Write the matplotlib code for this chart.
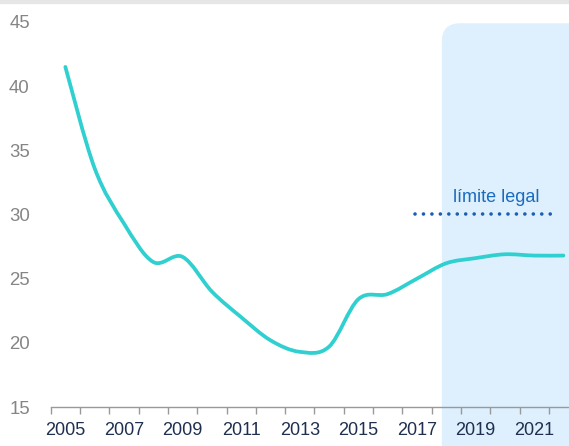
import numpy as np
import matplotlib
matplotlib.use("Agg")
import matplotlib.pyplot as plt
from matplotlib.path import Path
from matplotlib.patches import PathPatch, FancyBboxPatch, Rectangle

plt.rcParams['font.family'] = ['Liberation Sans', 'DejaVu Sans']

years = list(range(2005, 2023))
values = [41.5, 33.6, 29.3, 26.3, 26.7, 24.0, 22.0, 20.2, 19.3, 19.7,
          23.4, 23.8, 25.0, 26.2, 26.6, 26.9, 26.8, 26.8]
legal_limit = 30
limit_span = (2016.93, 2021.78)
shade_start = 2017.85
xtick_years = list(range(2005, 2023, 2))
yticks = [15, 20, 25, 30, 35, 40, 45]

line_color = '#30cfd0'
shade_color = '#def0fd'
label_blue = '#1a6bbf'

fig = plt.figure(figsize=(5.69, 4.46), dpi=100)
fig.patches.append(Rectangle((0, 0.993), 1, 0.01, transform=fig.transFigure,
                             color='#e6e6e6', zorder=0))
ax = fig.add_axes([50.7 / 569, 39 / 446, 527.4 / 569, 385 / 446])

ax.set_xlim(2004.5, 2022.5)
ax.set_ylim(15, 45)

# shaded forecast area with rounded corners
shade = FancyBboxPatch((shade_start, 10.0), 6.0, 34.9,
                       boxstyle="round,pad=0,rounding_size=0.62",
                       mutation_aspect=29.3 / 12.83,
                       facecolor=shade_color, edgecolor='none',
                       clip_on=False, zorder=0)
ax.add_patch(shade)

# smooth curve through the points (Catmull-Rom -> cubic Bezier)
pts = np.column_stack([years, values]).astype(float)
verts = [tuple(pts[0])]
codes = [Path.MOVETO]
n = len(pts)
for i in range(n - 1):
    p0 = pts[i - 1] if i > 0 else pts[i]
    p1 = pts[i]
    p2 = pts[i + 1]
    p3 = pts[i + 2] if i + 2 < n else pts[i + 1]
    c1 = p1 + (p2 - p0) / 6.0
    c2 = p2 - (p3 - p1) / 6.0
    verts += [tuple(c1), tuple(c2), tuple(p2)]
    codes += [Path.CURVE4] * 3
ax.add_patch(PathPatch(Path(verts, codes), facecolor='none',
                       edgecolor=line_color, lw=2.7, capstyle='round',
                       zorder=3))

# legal limit
ax.plot(limit_span, [legal_limit, legal_limit], color='#1a5fb4', lw=2.6,
        linestyle=(0, (0.01, 2.33)), dash_capstyle='round', zorder=2)
ax.text(sum(limit_span) / 2 + 0.35, legal_limit + 1.3, 'límite legal',
        color=label_blue, fontsize=13, ha='center', va='center')

for s in ['top', 'right', 'left']:
    ax.spines[s].set_visible(False)
ax.spines['bottom'].set_color('#999999')
ax.spines['bottom'].set_linewidth(1.0)

ax.set_xticks(xtick_years)
ax.set_xticklabels([str(y) for y in xtick_years])
ax.set_xticks(np.arange(2004.5, 2023, 1), minor=True)
ax.tick_params(axis='x', which='major', length=0, pad=11, labelsize=13,
               labelcolor='#1e2f50')
ax.tick_params(axis='x', which='minor', length=5, width=1, color='#999999')

ax.set_yticks(yticks)
ax.tick_params(axis='y', length=0, pad=15, labelsize=13.4, labelcolor='#858585')

fig.savefig('out.png', dpi=100)
